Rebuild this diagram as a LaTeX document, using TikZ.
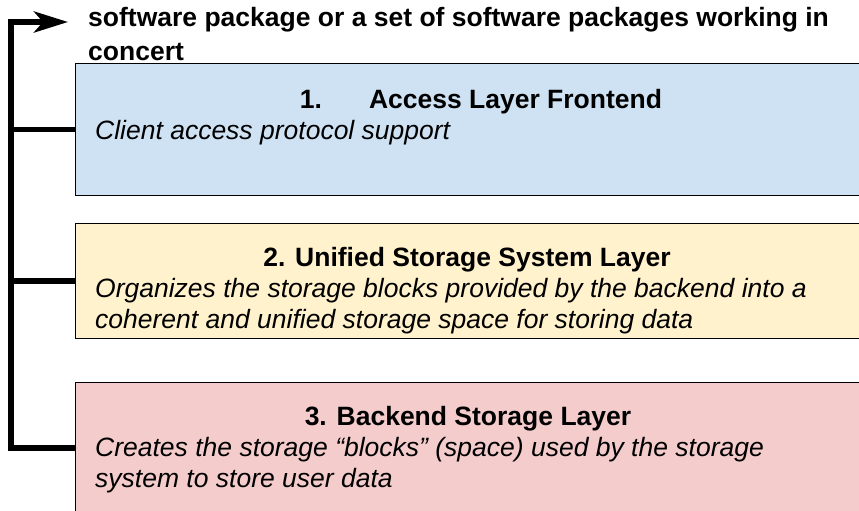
\documentclass[tikz,border=0pt]{standalone}
\usepackage{fontspec}
\setmainfont{Liberation Sans}
\usetikzlibrary{arrows.meta}
\definecolor{boxblue}{HTML}{CFE2F3}
\definecolor{boxyellow}{HTML}{FFF2CC}
\definecolor{boxred}{HTML}{F4CCCC}
\tikzset{
  layerbox/.style={draw=black, line width=1.3pt, anchor=north west, inner sep=0pt, minimum width=788pt},
  conn/.style={line width=5.5pt, black},
  txt/.style={inner sep=0pt, font=\fontsize{26.5}{31}\selectfont},
  ttl/.style={txt, anchor=base, font=\fontsize{26.5}{31}\selectfont\bfseries},
  desc/.style={txt, anchor=base west, font=\fontsize{26.5}{31}\selectfont\itshape},
  head/.style={txt, anchor=base west, font=\fontsize{26.5}{34}\selectfont\bfseries}
}
\begin{document}
\begin{tikzpicture}[x=1pt,y=-1pt]
\useasboundingbox (0,0) rectangle (859,511);
\clip (0,0) rectangle (859,511);
% boxes
\node[layerbox, fill=boxblue, minimum height=132pt] (b1) at (75,63) {};
\node[layerbox, fill=boxyellow, minimum height=115pt] (b2) at (75,223) {};
\node[layerbox, fill=boxred, minimum height=131pt] (b3) at (75,382) {};
% heading text
\node[head] (h1) at (88,27) {software package or a set of software packages working in};
\node[head] (h2) at (88,61) {concert};
% box 1
\node[ttl] (t1) at (481,108) {1.\hspace{47pt}Access Layer Frontend};
\node[desc] (d1) at (95,139) {Client access protocol support};
% box 2
\node[ttl] (t2) at (467,266) {2. Unified Storage System Layer};
\node[desc] (d2a) at (95,297) {Organizes the storage blocks provided by the backend into a};
\node[desc] (d2b) at (95,328) {coherent and unified storage space for storing data};
% box 3
\node[ttl] (t3) at (468,425) {3. Backend Storage Layer};
\node[desc] (d3a) at (95,456) {Creates the storage “blocks” (space) used by the storage};
\node[desc] (d3b) at (95,487) {system to store user data};
% connectors
\coordinate (corner) at (11,22);
\coordinate (tip) at (68,22);
\draw[conn, -{Stealth[length=34pt, width=21pt, inset=9pt]}] (b3.west) -| (corner) -- (tip);
\draw[conn] (b1.west) -- (b1.west -| corner);
\draw[conn] (b2.west) -- (b2.west -| corner);
\end{tikzpicture}
\end{document}
